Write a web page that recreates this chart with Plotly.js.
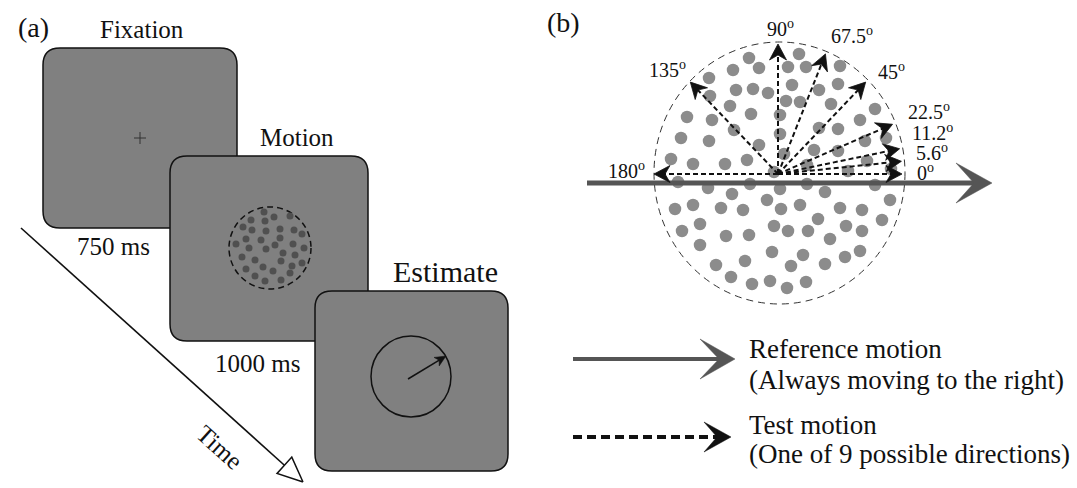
<!DOCTYPE html>
<html>
<head>
<meta charset="utf-8">
<script src="https://cdn.plot.ly/plotly-3.0.1.min.js"></script>
<style>html,body{margin:0;padding:0;background:#fff;}#chart{width:1077px;height:488px;}</style>
</head>
<body>
<div id="chart"></div>
<script>
// ---------- data ----------
const panelLabels = ['(a)', '(b)'];
const stageNames = ['Fixation', 'Motion', 'Estimate'];
const durations = ['750 ms', '1000 ms'];
const timeLabel = 'Time';
const testAngles = [0, 5.6, 11.2, 22.5, 45, 67.5, 90, 135, 180];
const angleLabels = ['0', '5.6', '11.2', '22.5', '45', '67.5', '90', '135', '180'];
const legendLines = ['Reference motion', '(Always moving to the right)', 'Test motion', '(One of 9 possible directions)'];

// random-dot stimulus (panel a, inside the Motion frame)
const motionDotX = [264,274,290,251,265,243,252,266,280,294,302,246,261,280,236,275,293,304,249,266,283,295,242,255,281,302,263,292,246,273,290,255,265,281];
const motionDotY = [212,217,216,220,221,227,230,231,229,230,234,239,240,238,244,245,244,248,248,249,253,255,257,260,261,263,267,266,269,271,273,276,281,280];

// dot field (panel b)
const fieldDotX = [749,759,733,709,736,753,768,710,730,751,687,712,734,780,681,709,759,780,671,693,725,747,774,
  799,788,806,840,792,819,838,786,800,831,875,819,838,860,814,838,865,886,784,807,867,848,891,
  678,708,732,750,767,675,693,721,743,682,700,726,749,774,700,716,745,772,731,752,770,
  780,807,825,875,890,781,800,840,862,818,882,788,808,846,862,830,803,845,860,791,825,787,806];
const fieldDotY = [58,68,70,78,90,89,93,96,106,114,117,120,130,115,138,141,145,134,159,164,164,160,172,
  54,67,67,66,85,90,84,101,102,104,109,128,129,120,150,151,141,138,154,165,161,171,169,
  182,188,194,184,200,209,205,208,210,231,224,236,235,226,245,265,261,252,277,284,281,
  189,184,192,185,200,209,205,208,210,219,220,231,231,226,231,239,255,257,251,266,264,288,282];

// ---------- layout constants ----------
const W = 1077, H = 488;
const FONT = 'Liberation Serif';
const TXT = '#111111';
const BOX = '#808080';

function roundRect(x0, y0, x1, y1, r) {
  return `M ${x0+r} ${y0} L ${x1-r} ${y0} Q ${x1} ${y0} ${x1} ${y0+r} L ${x1} ${y1-r} Q ${x1} ${y1} ${x1-r} ${y1} ` +
         `L ${x0+r} ${y1} Q ${x0} ${y1} ${x0} ${y1-r} L ${x0} ${y0+r} Q ${x0} ${y0} ${x0+r} ${y0} Z`;
}
function headPts(tx, ty, ux, uy, L, Wd, N) {
  const nx = -uy, ny = ux;
  const bx = tx - L*ux, by = ty - L*uy;
  return {
    x: [tx, bx + Wd*nx, tx - N*ux, bx - Wd*nx, tx],
    y: [ty, by + Wd*ny, ty - N*uy, by - Wd*ny, ty]
  };
}
function headTrace(h, fill, lineColor, lw) {
  return {x: h.x, y: h.y, mode: 'lines', fill: 'toself', fillcolor: fill,
          line: {color: lineColor, width: lw}, hoverinfo: 'skip', showlegend: false};
}

const traces = [];
const shapes = [];
const ann = [];

// ---------- panel (a) ----------
shapes.push({type: 'path', path: roundRect(43, 48, 237, 228, 17), fillcolor: BOX, line: {color: '#111', width: 1.5}, layer: 'below'});
shapes.push({type: 'line', x0: 134, x1: 146, y0: 138, y1: 138, line: {color: '#333', width: 1}, layer: 'below'});
shapes.push({type: 'line', x0: 140, x1: 140, y0: 132, y1: 144, line: {color: '#333', width: 1}, layer: 'below'});
shapes.push({type: 'path', path: roundRect(170, 156, 368, 341, 17), fillcolor: BOX, line: {color: '#111', width: 1.5}, layer: 'below'});
shapes.push({type: 'circle', x0: 229, x1: 311, y0: 207, y1: 289, line: {color: '#111', width: 1.5, dash: '6px,4px'}, layer: 'below'});
shapes.push({type: 'path', path: roundRect(315, 291, 508, 471, 17), fillcolor: BOX, line: {color: '#111', width: 1.5}, layer: 'below'});
shapes.push({type: 'circle', x0: 371, x1: 451, y0: 336, y1: 417, line: {color: '#111', width: 1.5}, layer: 'below'});

traces.push({x: motionDotX, y: motionDotY, mode: 'markers', marker: {color: '#505050', size: 7}, hoverinfo: 'skip', showlegend: false});

// estimate pointer arrow
(function(){
  const x0 = 408, y0 = 379, x1 = 446, y1 = 356;
  const len = Math.hypot(x1-x0, y1-y0), ux = (x1-x0)/len, uy = (y1-y0)/len;
  traces.push({x: [x0, x1 - 4*ux], y: [y0, y1 - 4*uy], mode: 'lines', line: {color: '#111', width: 1.5}, hoverinfo: 'skip', showlegend: false});
  traces.push(headTrace(headPts(x1, y1, ux, uy, 11, 5, 8), '#111', '#111', 0.5));
})();

// time arrow
(function(){
  const x0 = 21, y0 = 228, x1 = 303, y1 = 482;
  const len = Math.hypot(x1-x0, y1-y0), ux = (x1-x0)/len, uy = (y1-y0)/len;
  const L = 25;
  traces.push({x: [x0, x1 - L*ux], y: [y0, y1 - L*uy], mode: 'lines', line: {color: '#111', width: 1.6}, hoverinfo: 'skip', showlegend: false});
  traces.push(headTrace(headPts(x1, y1, ux, uy, L, 11, L), '#ffffff', '#111', 1.5));
})();

// ---------- panel (b) ----------
shapes.push({type: 'circle', x0: 654, x1: 905, y0: 42, y1: 304, line: {color: '#333', width: 1, dash: '7px,5px'}, layer: 'below'});
traces.push({x: fieldDotX, y: fieldDotY, mode: 'markers', marker: {color: '#8c8c8c', size: 12.5}, hoverinfo: 'skip', showlegend: false});

// reference (horizontal) arrow
traces.push({x: [587, 975], y: [183, 183], mode: 'lines', line: {color: '#555', width: 5}, hoverinfo: 'skip', showlegend: false});
traces.push(headTrace(headPts(992, 183, 1, 0, 36, 20, 18), '#555', '#555', 0.5));

// test arrows (tips reach the dashed aperture)
const OX = 778, OY = 174, RX = 124, RY = 130;
testAngles.forEach(function(a){
  const r = a * Math.PI / 180;
  const tx = OX + RX*Math.cos(r), ty = OY - RY*Math.sin(r);
  const len = Math.hypot(tx-OX, ty-OY), ux = (tx-OX)/len, uy = (ty-OY)/len;
  traces.push({x: [OX, tx - 6*ux], y: [OY, ty - 6*uy], mode: 'lines', line: {color: '#111', width: 2, dash: '5px,3px'}, hoverinfo: 'skip', showlegend: false});
  traces.push(headTrace(headPts(tx, ty, ux, uy, 16, 8.5, 11), '#111', '#111', 0.8));
});

// angle labels
const angleLabelPos = [[925,172],[932,152],[932,132],[929,111],[891,71],[852,35],[780,28],[667,69],[626,170]];
angleLabels.forEach(function(t, i){
  ann.push({x: angleLabelPos[i][0], y: angleLabelPos[i][1], text: t + '<sup>o</sup>', showarrow: false,
            xanchor: 'center', yanchor: 'middle', font: {family: FONT, size: 20, color: TXT}});
});

// legend arrows
traces.push({x: [573, 720], y: [359, 359], mode: 'lines', line: {color: '#555', width: 4}, hoverinfo: 'skip', showlegend: false});
traces.push(headTrace(headPts(735, 359, 1, 0, 35, 20, 16), '#555', '#555', 0.5));
traces.push({x: [573, 718], y: [437, 437], mode: 'lines', line: {color: '#111', width: 4, dash: '9px,5px'}, hoverinfo: 'skip', showlegend: false});
traces.push(headTrace(headPts(731, 437, 1, 0, 27, 15, 14), '#111', '#111', 0.5));

// ---------- text ----------
function txt(x, y, t, size, extra) {
  const a = {x: x, y: y, text: t, showarrow: false, xanchor: 'center', yanchor: 'middle', font: {family: FONT, size: size, color: TXT}};
  return Object.assign(a, extra || {});
}
ann.push(txt(33, 27, panelLabels[0], 28));
ann.push(txt(563, 22, panelLabels[1], 28));
ann.push(txt(142, 29, stageNames[0], 25));
ann.push(txt(297, 137, stageNames[1], 25));
ann.push(txt(445, 271, stageNames[2], 30));
ann.push(txt(113, 246, durations[0], 25));
ann.push(txt(257, 363, durations[1], 25));
ann.push(txt(220, 447, timeLabel, 25, {textangle: 42}));
const legendY = [349, 380, 425, 454];
legendLines.forEach(function(t, i){ ann.push(txt(747, legendY[i], t, 27, {xanchor: 'left'})); });

const layout = {
  width: W, height: H,
  margin: {l: 0, r: 0, t: 0, b: 0, pad: 0},
  paper_bgcolor: '#ffffff', plot_bgcolor: '#ffffff',
  xaxis: {range: [0, W], visible: false, fixedrange: true},
  yaxis: {range: [H, 0], visible: false, fixedrange: true},
  shapes: shapes, annotations: ann, showlegend: false
};
Plotly.newPlot('chart', traces, layout, {staticPlot: true, displayModeBar: false});
</script>
</body>
</html>
